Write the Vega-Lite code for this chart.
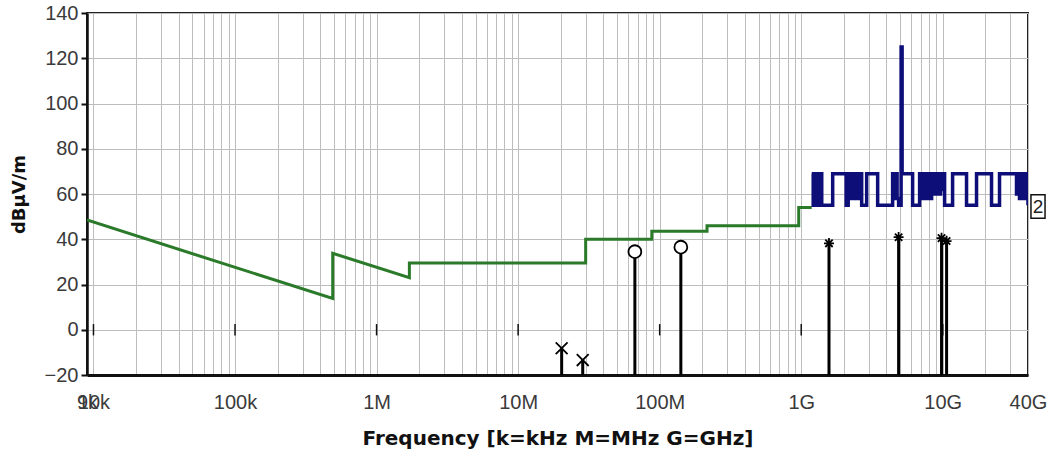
{
  "$schema": "https://vega.github.io/schema/vega-lite/v6.json",
  "width": 941,
  "height": 362,
  "autosize": {"type": "none"},
  "padding": {"left": 87, "top": 13, "right": 25, "bottom": 86},
  "background": "white",
  "config": {
    "view": {"stroke": "#222222", "strokeWidth": 2},
    "axis": {"labelFont": "Liberation Sans", "labelFontSize": 20, "labelColor": "#3a3a3a", "titleFont": "DejaVu Sans", "titleFontWeight": "bold", "titleColor": "#111111", "gridColor": "#bdbdbd", "gridWidth": 1, "gridOpacity": 1}
  },
  "datasets": {
    "limit": [
      {"i": 1, "f": 9000, "v": 48.5},
      {"i": 2, "f": 490000, "v": 13.8},
      {"i": 3, "f": 490000, "v": 33.8},
      {"i": 4, "f": 1705000, "v": 23.0},
      {"i": 5, "f": 1705000, "v": 29.5},
      {"i": 6, "f": 30000000, "v": 29.5},
      {"i": 7, "f": 30000000, "v": 40},
      {"i": 8, "f": 88000000, "v": 40},
      {"i": 9, "f": 88000000, "v": 43.5},
      {"i": 10, "f": 216000000, "v": 43.5},
      {"i": 11, "f": 216000000, "v": 46},
      {"i": 12, "f": 960000000, "v": 46},
      {"i": 13, "f": 960000000, "v": 54},
      {"i": 14, "f": 1186000000, "v": 54}
    ],
    "trace": [
      {"f": 1186000000, "v": 69}, {"f": 1215000000, "v": 55}, {"f": 1255000000, "v": 69}, {"f": 1276000000, "v": 55},
      {"f": 1351000000, "v": 69}, {"f": 1396000000, "v": 55}, {"f": 1668000000, "v": 69}, {"f": 2078000000, "v": 55},
      {"f": 2147000000, "v": 69}, {"f": 2200000000, "v": 58}, {"f": 2254000000, "v": 69}, {"f": 2309000000, "v": 58},
      {"f": 2366000000, "v": 69}, {"f": 2424000000, "v": 58}, {"f": 2484000000, "v": 69}, {"f": 2545000000, "v": 58},
      {"f": 2608000000, "v": 69}, {"f": 2673000000, "v": 55}, {"f": 2899000000, "v": 69}, {"f": 3467000000, "v": 55},
      {"f": 4423000000, "v": 69}, {"f": 4532000000, "v": 58}, {"f": 4645000000, "v": 69}, {"f": 4757000000, "v": 58},
      {"f": 4875000000, "v": 55}, {"f": 5077000000, "v": 125}, {"f": 5161000000, "v": 69}, {"f": 6122000000, "v": 55},
      {"f": 6860000000, "v": 69}, {"f": 7030000000, "v": 58}, {"f": 7204000000, "v": 69}, {"f": 7381000000, "v": 58},
      {"f": 7563000000, "v": 69}, {"f": 7750000000, "v": 58}, {"f": 7942000000, "v": 69}, {"f": 8138000000, "v": 58},
      {"f": 8338000000, "v": 69}, {"f": 8543000000, "v": 60}, {"f": 8755000000, "v": 69}, {"f": 8971000000, "v": 60},
      {"f": 9192000000, "v": 69}, {"f": 9417000000, "v": 60}, {"f": 9650000000, "v": 69}, {"f": 9888000000, "v": 62},
      {"f": 10000000000, "v": 69}, {"f": 10300000000, "v": 55}, {"f": 11730000000, "v": 69}, {"f": 14720000000, "v": 55},
      {"f": 17320000000, "v": 69}, {"f": 22100000000, "v": 55}, {"f": 25170000000, "v": 69}, {"f": 33180000000, "v": 60},
      {"f": 34000000000, "v": 69}, {"f": 34830000000, "v": 58}, {"f": 35690000000, "v": 69}, {"f": 36580000000, "v": 58},
      {"f": 37480000000, "v": 69}, {"f": 38400000000, "v": 58}, {"f": 39350000000, "v": 69}, {"f": 40000000000, "v": 55}
    ],
    "peaks": [
      {"f": 20300000, "v": -8.2, "m": "x"},
      {"f": 28600000, "v": -13.4, "m": "x"},
      {"f": 66800000, "v": 34.5, "m": "o"},
      {"f": 141100000, "v": 36.5, "m": "o"},
      {"f": 1571000000, "v": 38.2, "m": "s"},
      {"f": 4875000000, "v": 40.9, "m": "s"},
      {"f": 9800000000, "v": 40.5, "m": "s"},
      {"f": 10640000000, "v": 39.2, "m": "s"}
    ],
    "decades": [
      {"f": 10000}, {"f": 100000}, {"f": 1000000}, {"f": 10000000}, {"f": 100000000}, {"f": 1000000000}, {"f": 10000000000}
    ],
    "tag": [
      {"f": 40000000000, "v": 54.5, "t": "2"}
    ]
  },
  "layer": [
    {
      "data": {"name": "limit"},
      "mark": {"type": "line", "color": "#2a7a2a", "strokeWidth": 3, "clip": true},
      "encoding": {
        "x": {
          "field": "f", "type": "quantitative",
          "scale": {"type": "log", "domain": [9000, 40000000000], "nice": false, "zero": false},
          "axis": {
            "title": "Frequency [k=kHz M=MHz G=GHz]",
            "titleFontSize": 20,
            "titlePadding": 16,
            "values": [9000, 10000, 20000, 30000, 40000, 50000, 60000, 70000, 80000, 90000,
                       100000, 200000, 300000, 400000, 500000, 600000, 700000, 800000, 900000,
                       1000000, 2000000, 3000000, 4000000, 5000000, 6000000, 7000000, 8000000, 9000000,
                       10000000, 20000000, 30000000, 40000000, 50000000, 60000000, 70000000, 80000000, 90000000,
                       100000000, 200000000, 300000000, 400000000, 500000000, 600000000, 700000000, 800000000, 900000000,
                       1000000000, 2000000000, 3000000000, 4000000000, 5000000000, 6000000000, 7000000000, 8000000000, 9000000000,
                       10000000000, 20000000000, 30000000000, 40000000000],
            "labelExpr": "datum.value == 9000 ? '9k' : datum.value == 10000 ? '10k' : datum.value == 100000 ? '100k' : datum.value == 1000000 ? '1M' : datum.value == 10000000 ? '10M' : datum.value == 100000000 ? '100M' : datum.value == 1000000000 ? '1G' : datum.value == 10000000000 ? '10G' : datum.value == 40000000000 ? '40G' : ''",
            "labelOverlap": false,
            "labelFlush": false,
            "labelBound": false,
            "labelPadding": 17,
            "ticks": false,
            "tickSize": 0,
            "grid": true,
            "domainColor": "#111111",
            "domainWidth": 3
          }
        },
        "y": {
          "field": "v", "type": "quantitative",
          "scale": {"domain": [-20, 140], "nice": false, "zero": false},
          "axis": {
            "title": "dBµV/m",
            "titleFontSize": 18,
            "titlePadding": 16,
            "values": [-20, -10, 0, 10, 20, 30, 40, 50, 60, 70, 80, 90, 100, 110, 120, 130, 140],
            "labelExpr": "datum.value % 20 == 0 ? datum.label : ''",
            "labelOverlap": false,
            "labelFlush": false,
            "labelBound": false,
            "labelPadding": 3,
            "tickSize": 6,
            "tickWidth": 2,
            "tickColor": "#111111",
            "grid": true,
            "domainColor": "#111111",
            "domainWidth": 2.5
          }
        },
        "order": {"field": "i"}
      }
    },
    {
      "mark": {"type": "rule", "color": "#111111", "strokeWidth": 1.5},
      "encoding": {"y": {"datum": 0}}
    },
    {
      "data": {"name": "decades"},
      "mark": {"type": "rule", "color": "#111111", "strokeWidth": 1.5},
      "encoding": {
        "x": {"field": "f", "type": "quantitative"},
        "y": {"datum": -2.5},
        "y2": {"datum": 2.5}
      }
    },
    {
      "data": {"name": "trace"},
      "mark": {"type": "line", "interpolate": "step-after", "color": "#0e0e78", "strokeWidth": 3.5, "clip": true},
      "encoding": {
        "x": {"field": "f", "type": "quantitative"},
        "y": {"field": "v", "type": "quantitative"}
      }
    },
    {
      "data": {"name": "peaks"},
      "mark": {"type": "rule", "color": "#000000", "strokeWidth": 3},
      "encoding": {
        "x": {"field": "f", "type": "quantitative"},
        "y": {"field": "v", "type": "quantitative"},
        "y2": {"datum": -20}
      }
    },
    {
      "data": {"name": "peaks"},
      "mark": {"type": "point", "filled": false, "fill": "white", "fillOpacity": 1, "stroke": "#000000", "strokeWidth": 1.8, "opacity": 1},
      "encoding": {
        "x": {"field": "f", "type": "quantitative"},
        "y": {"field": "v", "type": "quantitative"},
        "shape": {
          "field": "m", "type": "nominal", "legend": null,
          "scale": {"domain": ["x", "o", "s"], "range": ["M-0.8,-0.8L0.8,0.8M-0.8,0.8L0.8,-0.8", "circle", "M0,-1L0,1M-0.95,0L0.95,0M-0.7,-0.7L0.7,0.7M-0.7,0.7L0.7,-0.7"]}
        },
        "size": {
          "field": "m", "type": "nominal", "legend": null,
          "scale": {"domain": ["x", "o", "s"], "range": [220, 110, 240]}
        }
      }
    },
    {
      "data": {"name": "tag"},
      "mark": {"type": "point", "shape": "M-0.6,-1H0.6V1H-0.6Z", "size": 550, "filled": false, "fill": "white", "fillOpacity": 1, "stroke": "#111111", "strokeWidth": 1.5, "opacity": 1, "xOffset": 10, "clip": false},
      "encoding": {
        "x": {"field": "f", "type": "quantitative"},
        "y": {"field": "v", "type": "quantitative"}
      }
    },
    {
      "data": {"name": "tag"},
      "mark": {"type": "text", "font": "Liberation Sans", "fontSize": 19, "color": "#222222", "align": "center", "baseline": "middle", "dx": 10, "dy": 1, "clip": false},
      "encoding": {
        "x": {"field": "f", "type": "quantitative"},
        "y": {"field": "v", "type": "quantitative"},
        "text": {"field": "t"}
      }
    }
  ]
}
